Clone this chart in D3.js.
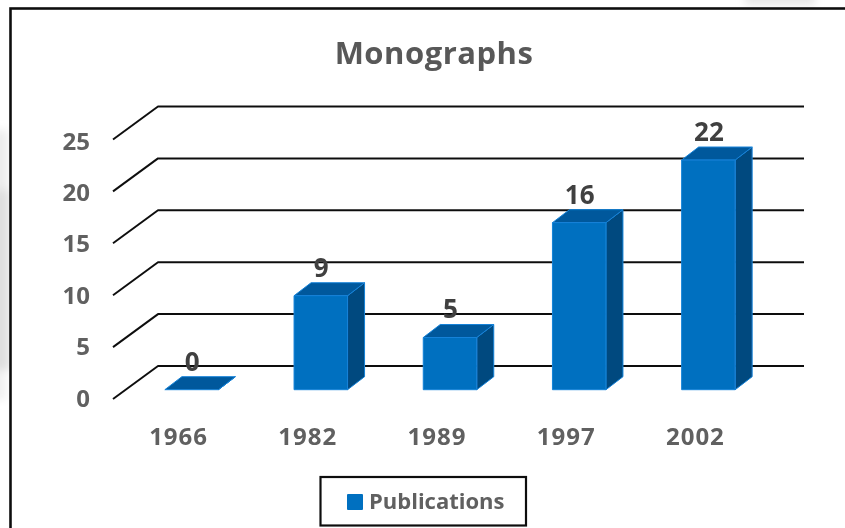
<!DOCTYPE html>
<html>
<head>
<meta charset="utf-8">
<script src="https://cdn.jsdelivr.net/npm/d3@7/dist/d3.min.js"></script>
<style>
html,body{margin:0;padding:0;background:#fff;overflow:hidden}
svg{display:block}
text{font-family:"Open Sans",sans-serif}
</style>
</head>
<body>
<svg id="c" width="845" height="528"></svg>
<script>
const categories = ["1966","1982","1989","1997","2002"];
const publications = [0,9,5,16,22];
const yTicks = [0,5,10,15,20,25];
const chartTitle = "Monographs";
const seriesName = "Publications";

const svg = d3.select("#c");
const defs = svg.append("defs");
defs.append("filter").attr("id","blur").attr("x","-50%").attr("y","-50%").attr("width","200%").attr("height","200%")
  .append("feGaussianBlur").attr("stdDeviation",4);
defs.append("filter").attr("id","soft").attr("x","-2%").attr("y","-2%").attr("width","104%").attr("height","104%")
  .append("feGaussianBlur").attr("stdDeviation",0.4);

// faint backdrop outside of the frame
const bg = svg.append("g").attr("filter","url(#blur)");
bg.append("rect").attr("x",-12).attr("y",130).attr("width",20).attr("height",60).attr("fill","#ececec");
bg.append("rect").attr("x",-12).attr("y",190).attr("width",22).attr("height",180).attr("fill","#dedede");
bg.append("rect").attr("x",-12).attr("y",370).attr("width",18).attr("height",30).attr("fill","#f0f0f0");
bg.append("rect").attr("x",745).attr("y",-8).attr("width",70).attr("height",13).attr("fill","#e6e6e6");

const depth = {x:45,y:-33};
const barDepth = {x:17,y:-13};
const barOffset = {x:14};

const x = d3.scaleBand().domain(categories).range([113,759]).paddingInner(0).paddingOuter(0);
const y = d3.scaleLinear().domain([0,25]).range([399,139.5]);
const yLabel = d3.scaleLinear().domain([0,25]).range([398,141]);
const yBar = d3.scaleLinear().domain([0,25]).range([389.7,128.7]);
const barW = 53.5;
const barX = c => x(c)+x.bandwidth()/2-barW/2+barOffset.x;

const root = svg.append("g").attr("filter","url(#soft)");

// frame
root.append("rect").attr("x",10.5).attr("y",8.5).attr("width",900).attr("height",600)
  .attr("fill","#fff").attr("stroke","#111").attr("stroke-width",2.6);

// grid
const backRight = x.range()[1]+depth.x;
root.append("g").selectAll("path").data(yTicks).join("path")
  .attr("d",t=>{
    const p=d3.path();
    p.moveTo(x.range()[0],y(t));
    p.lineTo(x.range()[0]+depth.x,y(t)+depth.y);
    p.lineTo(backRight,y(t)+depth.y);
    return p.toString();
  })
  .attr("fill","none").attr("stroke","#111").attr("stroke-width",2).attr("stroke-linejoin","round");

// axis labels
root.append("g").selectAll("text").data(yTicks).join("text")
  .attr("x",90).attr("y",t=>yLabel(t)).attr("dy","0.36em").attr("text-anchor","end")
  .attr("font-size",24).attr("font-weight",700).attr("fill","#606060").text(d=>d);
root.append("g").selectAll("text").data(categories).join("text")
  .attr("x",c=>x(c)+x.bandwidth()/2+1).attr("y",436).attr("dy","0.36em").attr("text-anchor","middle")
  .attr("font-size",24).attr("letter-spacing",1).attr("font-weight",700).attr("fill","#606060").text(d=>d);

// bars
const rows = categories.map((c,i)=>({c,v:publications[i]}));
const bars = root.append("g").selectAll("g").data(rows).join("g")
  .attr("stroke","#1482d8").attr("stroke-width",1).attr("stroke-linejoin","round");
const poly = pts => pts.map(p=>p.join(",")).join(" ");
bars.append("polygon").attr("fill","#00487f").attr("points",d=>{
  const l=barX(d.c)+barW,t=yBar(d.v),b=yBar(0);
  return poly([[l,t],[l+barDepth.x,t+barDepth.y],[l+barDepth.x,b+barDepth.y],[l,b]]);
});
bars.append("polygon").attr("fill","#00589c").attr("points",d=>{
  const l=barX(d.c),t=yBar(d.v);
  return poly([[l,t],[l+barDepth.x,t+barDepth.y],[l+barW+barDepth.x,t+barDepth.y],[l+barW,t]]);
});
bars.append("rect").attr("fill","#0070c0")
  .attr("x",d=>barX(d.c)).attr("y",d=>yBar(d.v)).attr("width",barW).attr("height",d=>yBar(0)-yBar(d.v));

// data labels
root.append("g").selectAll("text").data(rows).join("text")
  .attr("x",d=>barX(d.c)+barW/2+0.5)
  .attr("y",d=>yBar(d.v)+barDepth.y-15.5)
  .attr("dy","0.36em").attr("text-anchor","middle")
  .attr("font-size",26).attr("font-weight",700).attr("fill","#404040").text(d=>d.v);

// title
root.append("text").attr("x",434).attr("y",53).attr("dy","0.36em").attr("text-anchor","middle")
  .attr("font-size",31).attr("letter-spacing",0.5).attr("font-weight",700).attr("fill","#595959").text(chartTitle);

// legend
const lg = root.append("g");
lg.append("rect").attr("x",320.5).attr("y",477).attr("width",205.5).attr("height",48.5)
  .attr("fill","#fff").attr("stroke","#111").attr("stroke-width",2.2);
lg.append("rect").attr("x",347).attr("y",494).attr("width",16).attr("height",16).attr("rx",1).attr("fill","#0070c0");
lg.append("text").attr("x",369).attr("y",501).attr("dy","0.36em")
  .attr("font-size",22).attr("font-weight",700).attr("fill","#606060").text(seriesName);
</script>
</body>
</html>
